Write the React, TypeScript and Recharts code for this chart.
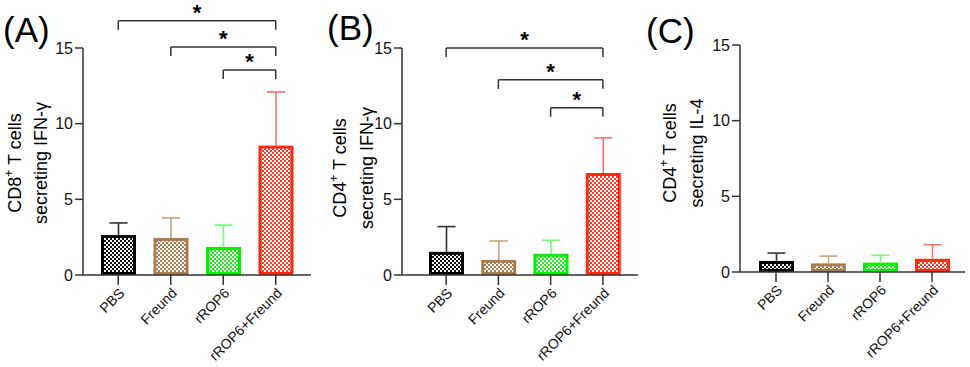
import React from "react";
import { BarChart, Bar, XAxis, YAxis, ReferenceLine } from "recharts";

const groups = ["PBS", "Freund", "rROP6", "rROP6+Freund"];
const yTicks = [0, 5, 10, 15];

// means and upper SD
const cd8IfnMean = [2.64, 2.45, 1.85, 8.55];
const cd8IfnSd = [0.8, 1.32, 1.45, 3.55];
const cd4IfnMean = [1.53, 1.0, 1.4, 6.74];
const cd4IfnSd = [1.67, 1.25, 0.9, 2.32];
const cd4Il4Mean = [0.73, 0.57, 0.62, 0.87];
const cd4Il4Sd = [0.52, 0.48, 0.48, 0.93];

// significance brackets: [from, to, level]
const cd8Sig: [string, string, number][] = [
  ["PBS", "rROP6+Freund", 16.8],
  ["Freund", "rROP6+Freund", 15.07],
  ["rROP6", "rROP6+Freund", 13.55],
];
const cd4Sig: [string, string, number][] = [
  ["PBS", "rROP6+Freund", 15.0],
  ["Freund", "rROP6+Freund", 12.9],
  ["rROP6", "rROP6+Freund", 11.05],
];

const palette = [
  { id: "blk", stroke: "#000000", cell: "#111111", err: "#333333" },
  { id: "brn", stroke: "#a87d52", cell: "#a87d52", err: "#c9a27c" },
  { id: "grn", stroke: "#00f000", cell: "#22ee22", err: "#70ff70" },
  { id: "red", stroke: "#ff2a14", cell: "#ff3a2a", err: "#ff7070" },
];

const font = "'Liberation Sans', Arial, sans-serif";
const axisColor = "#333";

const makeRows = (mean: number[], sd: number[]) =>
  groups.map((g, i) => ({ name: g, value: mean[i], sd: sd[i] }));

const BarShape = (props: any) => {
  const { x, y, width, height, index, payload } = props;
  const c = palette[index];
  const k = height / payload.value;
  const top = y - payload.sd * k;
  const cx = x + width / 2;
  const sw = 3;
  return (
    <g>
      <line x1={cx} x2={cx} y1={top} y2={y} stroke={c.err} strokeWidth={1.6} />
      <line x1={cx - 9} x2={cx + 9} y1={top} y2={top} stroke={c.err} strokeWidth={1.6} />
      <rect
        x={x + sw / 2}
        y={y + sw / 2}
        width={width - sw}
        height={Math.max(height - sw, 0)}
        fill={`url(#chk-${c.id})`}
        stroke={c.stroke}
        strokeWidth={sw}
      />
    </g>
  );
};

const YLabel = ({ lines, x1, x2, cy }: { lines: string[][]; x1: number; x2: number; cy: number }) => (
  <g fontFamily={font} fontSize={18} fill="#000">
    {[x1, x2].map((lx, i) => (
      <text key={i} x={lx} y={cy} transform={`rotate(-90 ${lx} ${cy})`} textAnchor="middle" dominantBaseline="central">
        {lines[i][0]}
        {lines[i][1] ? (
          <tspan fontSize={12} dy={-6}>
            {lines[i][1]}
          </tspan>
        ) : null}
        {lines[i][2] ? <tspan dy={6}>{lines[i][2]}</tspan> : null}
      </text>
    ))}
  </g>
);

type PanelProps = {
  left: number;
  width: number;
  yAxisWidth: number;
  top: number;
  axisBottom: number;
  right: number;
  pad: { left: number; right: number };
  mean: number[];
  sd: number[];
  sig: [string, string, number][];
  label: string[][];
  labelX: [number, number];
  labelY: number;
  title: string;
  titleX: number;
  titleY: number;
};

const Panel = (p: PanelProps) => {
  const rows = makeRows(p.mean, p.sd);
  return (
    <div style={{ position: "absolute", left: p.left, top: 0, width: p.width, height: 367 }}>
      <BarChart
        width={p.width}
        height={367}
        data={rows}
        margin={{ top: p.top, right: p.right, bottom: 0, left: 0 }}
        barSize={35}
      >
        <XAxis
          dataKey="name"
          padding={p.pad}
          height={367 - p.axisBottom}
          interval={0}
          angle={-45}
          textAnchor="end"
          tickSize={10}
          tickMargin={2}
          stroke={axisColor}
          strokeWidth={1.5}
          tick={{ fill: "#111", fontSize: 14, fontFamily: font }}
        />
        <YAxis
          width={p.yAxisWidth}
          domain={[0, 15]}
          ticks={yTicks}
          tickSize={8}
          tickMargin={2}
          stroke={axisColor}
          strokeWidth={1.5}
          tick={{ fill: "#111", fontSize: 16, fontFamily: font }}
        />
        <Bar dataKey="value" shape={<BarShape />} isAnimationActive={false} />
        {p.sig.map(([a, b, lv], i) => (
          <ReferenceLine
            key={`h${i}`}
            segment={[
              { x: a, y: lv },
              { x: b, y: lv },
            ]}
            ifOverflow="visible"
            stroke={axisColor}
            strokeWidth={1.5}
            label={{ value: "*", position: "top", offset: 1, fontSize: 22, fontWeight: "bold", fill: "#000", fontFamily: font }}
          />
        ))}
        {p.sig.flatMap(([a, b, lv], i) =>
          [a, b].map((c, j) => (
            <ReferenceLine
              key={`v${i}${j}`}
              segment={[
                { x: c, y: lv },
                { x: c, y: lv - 0.6 },
              ]}
              ifOverflow="visible"
              stroke={axisColor}
              strokeWidth={1.5}
            />
          ))
        )}
      </BarChart>
      <svg width={p.width} height={367} style={{ position: "absolute", left: 0, top: 0, pointerEvents: "none" }}>
        <YLabel lines={p.label} x1={p.labelX[0]} x2={p.labelX[1]} cy={p.labelY} />
        <text x={p.titleX} y={p.titleY} fontFamily={font} fontSize={35} fill="#000">
          {p.title}
        </text>
      </svg>
    </div>
  );
};

const Patterns = () => (
  <svg width={0} height={0} style={{ position: "absolute" }}>
    <defs>
      {palette.map((c) => (
        <pattern key={c.id} id={`chk-${c.id}`} width={4} height={4} patternUnits="userSpaceOnUse">
          <rect width={4} height={4} fill="#ffffff" />
          <rect width={2} height={2} fill={c.cell} />
          <rect x={2} y={2} width={2} height={2} fill={c.cell} />
        </pattern>
      ))}
    </defs>
  </svg>
);

export default function App() {
  return (
    <div style={{ position: "absolute", left: 0, top: 0, width: 970, height: 367, background: "#fff", overflow: "hidden" }}>
      <Patterns />
      <Panel
        left={0}
        width={320}
        yAxisWidth={83}
        top={48}
        axisBottom={275}
        right={9}
        pad={{ left: 9, right: 9 }}
        mean={cd8IfnMean}
        sd={cd8IfnSd}
        sig={cd8Sig}
        label={[["CD8", "+", " T cells"], ["secreting IFN-γ"]]}
        labelX={[15, 41]}
        labelY={163}
        title="(A)"
        titleX={3}
        titleY={42}
      />
      <Panel
        left={320}
        width={320}
        yAxisWidth={82}
        top={48}
        axisBottom={275}
        right={2}
        pad={{ left: 18, right: 9 }}
        mean={cd4IfnMean}
        sd={cd4IfnSd}
        sig={cd4Sig}
        label={[["CD4", "+", " T cells"], ["secreting IFN-γ"]]}
        labelX={[20, 47]}
        labelY={168}
        title="(B)"
        titleX={7}
        titleY={40}
      />
      <Panel
        left={640}
        width={330}
        yAxisWidth={100}
        top={45}
        axisBottom={272}
        right={5}
        pad={{ left: 10, right: 7 }}
        mean={cd4Il4Mean}
        sd={cd4Il4Sd}
        sig={[]}
        label={[["CD4", "+", " T cells"], ["secreting IL-4"]]}
        labelX={[30, 57]}
        labelY={153}
        title="(C)"
        titleX={6}
        titleY={43}
      />
    </div>
  );
}
